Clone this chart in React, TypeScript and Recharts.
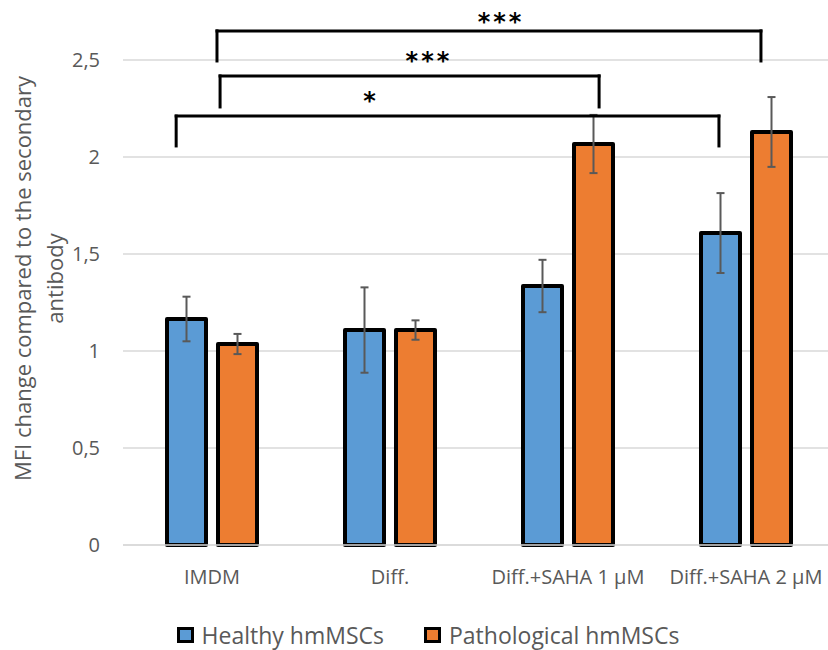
import React from "react";
import {
  BarChart,
  Bar,
  XAxis,
  YAxis,
  CartesianGrid,
  ErrorBar,
  Legend,
  ReferenceLine,
  ReferenceDot,
} from "recharts";

const categories = ["IMDM", "Diff.", "Diff.+SAHA 1 µM", "Diff.+SAHA 2 µM"];
const healthy = [1.165, 1.108, 1.335, 1.608];
const healthyErr = [0.115, 0.22, 0.135, 0.206];
const pathological = [1.036, 1.108, 2.067, 2.129];
const pathologicalErr = [0.052, 0.05, 0.15, 0.18];
const yTicks = [0, 0.5, 1, 1.5, 2, 2.5];

// significance brackets, x on a 0..3 scale spanning the plot width
const brackets = [
  { label: "***", from: 0.396, to: 2.688, top: 2.65, foot: 2.495, labelX: 1.593, labelY: 2.696 },
  { label: "***", from: 0.409, to: 2.006, top: 2.418, foot: 2.258, labelX: 1.289, labelY: 2.5 },
  { label: "*", from: 0.224, to: 2.511, top: 2.211, foot: 2.057, labelX: 1.045, labelY: 2.289 },
];

const FONT = "'Open Sans', sans-serif";
const GREY = "#595959";

const data = categories.map((name, i) => ({
  name,
  healthy: healthy[i],
  healthyErr: healthyErr[i],
  pathological: pathological[i],
  pathologicalErr: pathologicalErr[i],
}));

function YTitle(props: any) {
  const vb = props.viewBox || { x: 0, y: 60, width: 123, height: 485 };
  const cy = vb.y + vb.height / 2 - 24;
  return (
    <g transform={`translate(0, ${cy}) rotate(-90)`}>
      <text x={0} y={31} textAnchor="middle" fontFamily={FONT} fontSize={22} fill={GREY}>
        MFI change compared to the secondary
      </text>
      <text x={0} y={63} textAnchor="middle" fontFamily={FONT} fontSize={22} fill={GREY}>
        antibody
      </text>
    </g>
  );
}

function LegendContent(props: any) {
  const items = props.payload || [];
  return (
    <div
      style={{
        display: "flex",
        justifyContent: "center",
        alignItems: "center",
        height: 30,
        paddingLeft: 28,
        fontFamily: FONT,
        fontSize: 23,
        color: GREY,
      }}
    >
      {items.map((it: any, i: number) => (
        <div
          key={i}
          style={{ display: "flex", alignItems: "center", marginRight: i === 0 ? 40 : 0 }}
        >
          <span
            style={{
              display: "inline-block",
              width: 11,
              height: 10,
              border: "3px solid #000",
              background: it.color,
              marginRight: 8,
            }}
          />
          {it.value}
        </div>
      ))}
    </div>
  );
}

export default function App() {
  return (
    <div style={{ position: "absolute", left: 0, top: 0, width: 828, height: 650, background: "#fff" }}>
      <BarChart
        width={828}
        height={650}
        data={data}
        margin={{ top: 60, right: -7, bottom: 0, left: 0 }}
        barGap={12}
        barSize={39}
      >
        <CartesianGrid vertical={false} stroke="#d9d9d9" strokeWidth={1.3} />
        <XAxis
          dataKey="name"
          interval={0}
          tickLine={false}
          tickSize={0}
          tickMargin={25}
          height={75}
          axisLine={{ stroke: "#d9d9d9", strokeWidth: 1.3 }}
          tick={{ fill: GREY, fontSize: 20, fontFamily: FONT }}
        />
        <XAxis xAxisId="pos" type="number" domain={[0, 3]} allowDataOverflow hide />
        <YAxis
          domain={[0, 2.5]}
          ticks={yTicks}
          width={123}
          axisLine={false}
          tickLine={false}
          tickSize={0}
          tickMargin={23}
          tickFormatter={(v: number) => String(v).replace(".", ",")}
          tick={{ fill: GREY, fontSize: 20, fontFamily: FONT }}
          label={{ content: YTitle }}
        />
        <Legend
          verticalAlign="bottom"
          content={LegendContent}
          wrapperStyle={{ left: 0, width: 828, bottom: 0 }}
        />
        <Bar
          dataKey="healthy"
          name="Healthy hmMSCs"
          fill="#5B9BD5"
          stroke="#000"
          strokeWidth={4}
          strokeLinejoin="round"
          isAnimationActive={false}
        >
          <ErrorBar
            dataKey="healthyErr"
            direction="y"
            width={4}
            stroke={GREY}
            strokeWidth={2}
            isAnimationActive={false}
          />
        </Bar>
        <Bar
          dataKey="pathological"
          name="Pathological hmMSCs"
          fill="#ED7D31"
          stroke="#000"
          strokeWidth={4}
          strokeLinejoin="round"
          isAnimationActive={false}
        >
          <ErrorBar
            dataKey="pathologicalErr"
            direction="y"
            width={4}
            stroke={GREY}
            strokeWidth={2}
            isAnimationActive={false}
          />
        </Bar>
        {brackets.flatMap((b, i) => [
          <ReferenceLine
            key={`h${i}`}
            xAxisId="pos"
            ifOverflow="visible"
            stroke="#000"
            strokeWidth={3}
            strokeLinecap="square"
            segment={[
              { x: b.from, y: b.top },
              { x: b.to, y: b.top },
            ]}
          />,
          <ReferenceLine
            key={`l${i}`}
            xAxisId="pos"
            ifOverflow="visible"
            stroke="#000"
            strokeWidth={3}
            strokeLinecap="square"
            segment={[
              { x: b.from, y: b.top },
              { x: b.from, y: b.foot },
            ]}
          />,
          <ReferenceLine
            key={`r${i}`}
            xAxisId="pos"
            ifOverflow="visible"
            stroke="#000"
            strokeWidth={3}
            strokeLinecap="square"
            segment={[
              { x: b.to, y: b.top },
              { x: b.to, y: b.foot },
            ]}
          />,
          <ReferenceDot
            key={`s${i}`}
            xAxisId="pos"
            x={b.labelX}
            y={b.labelY}
            r={0}
            fill="none"
            stroke="none"
            ifOverflow="visible"
            label={{
              value: b.label,
              position: "center",
              fill: "#000",
              fontSize: 24,
              fontWeight: "bold",
              fontFamily: "'DejaVu Sans', sans-serif",
              letterSpacing: 3,
            }}
          />,
        ])}
      </BarChart>
    </div>
  );
}
